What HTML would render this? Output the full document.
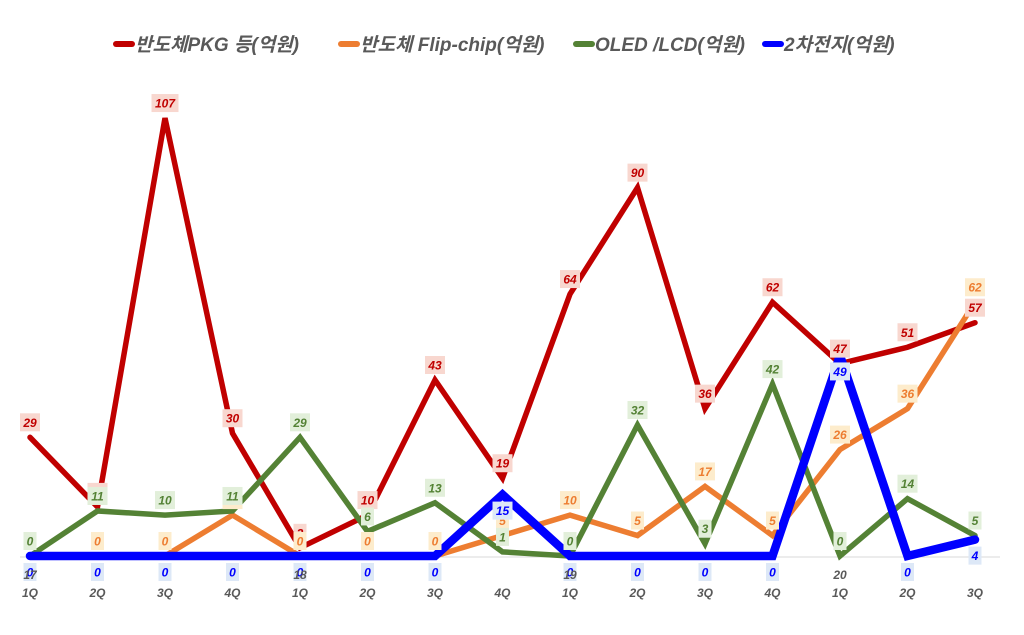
<!DOCTYPE html>
<html><head><meta charset="utf-8"><style>
html,body{margin:0;padding:0;background:#fff;}
svg{display:block;font-family:"Liberation Sans","Noto Sans CJK KR",sans-serif;}
</style></head><body>
<svg id="chart" width="1024" height="635"></svg>
<script>
const categories=["1Q","2Q","3Q","4Q","1Q","2Q","3Q","4Q","1Q","2Q","3Q","4Q","1Q","2Q","3Q"];
const years=["17","","","","18","","","","19","","","","20","",""];
const pkg=[29,12,107,30,2,10,43,19,64,90,36,62,47,51,57];
const flip=[0,0,0,10,0,0,0,5,10,5,17,5,26,36,62];
const oled=[0,11,10,11,29,6,13,1,0,32,3,42,0,14,5];
const battery=[0,0,0,0,0,0,0,15,0,0,0,0,49,0,4];
const seriesNames=["반도체PKG 등(억원)","반도체 Flip-chip(억원)","OLED /LCD(억원)","2차전지(억원)"];
const NS="http://www.w3.org/2000/svg";
const svg=document.getElementById("chart");
function xs(i){return 30+i*67.5;}
function ys(v){return 556-v*4.093;}
function mk(t,a,p){const e=document.createElementNS(NS,t);for(const k in a)e.setAttribute(k,a[k]);(p||svg).appendChild(e);return e;}
const axis=mk("line",{x1:20,x2:1000,y1:557,y2:557,stroke:"#d9d9d9","stroke-width":1});


const series=[
 {d:pkg,c:"#c00000",w:5.5,bg:"#f8d7cf",tc:"#c00000",below:false,name:"pkg"},
 {d:flip,c:"#ed7d31",w:5.5,bg:"#fdeccc",tc:"#ed7d31",below:false,name:"flip-chip"},
 {d:oled,c:"#548235",w:5.5,bg:"#e2efda",tc:"#548235",below:false,name:"oled-lcd"},
 {d:battery,c:"#0000ff",w:8.5,bg:"#dde8f7",tc:"#0000ff",below:true,name:"battery"}
];
series.forEach(s=>{
 const pts=s.d.map((v,i)=>xs(i)+","+ys(v)).join(" ");
 const pl=mk("polyline",{points:pts,fill:"none",stroke:s.c,"stroke-width":s.w,"stroke-linejoin":"miter","stroke-linecap":"round"});
 
 
});
series.forEach(s=>{
 s.d.forEach((v,i)=>{
  const x=xs(i),y=ys(v)+(s.below?16:-15);
  const t=String(v),w=t.length*7+6;
  const g=mk("g",{});
  
  
  mk("rect",{x:x-w/2,y:y-9,width:w,height:18,fill:s.bg},g);
  const tx=mk("text",{x:x,y:y+4.5,"text-anchor":"middle","font-size":12,"font-weight":"bold","font-style":"italic",fill:s.tc},g);
  tx.textContent=t;
 });
});
categories.forEach((c,i)=>{
 const x=xs(i);
 if(years[i]){const y=mk("text",{x:x,y:579,"text-anchor":"middle","font-size":12,"font-weight":"bold","font-style":"italic",fill:"#595959"});y.textContent=years[i];
 
 }
 const q=mk("text",{x:x,y:597,"text-anchor":"middle","font-size":12,"font-weight":"bold","font-style":"italic",fill:"#595959"});q.textContent=c;
 
 
});
const legX=[113,338,573,762];
series.forEach((s,i)=>{
 const g=mk("g",{});
 
 
 mk("line",{x1:legX[i]+3,x2:legX[i]+19,y1:44,y2:44,stroke:s.c,"stroke-width":6,"stroke-linecap":"round"},g);
 const t=mk("text",{x:legX[i]+22,y:51,"font-size":19,"font-weight":"bold","font-style":"italic",fill:"#595959"},g);
 t.textContent=seriesNames[i];
});
</script>
</body></html>
